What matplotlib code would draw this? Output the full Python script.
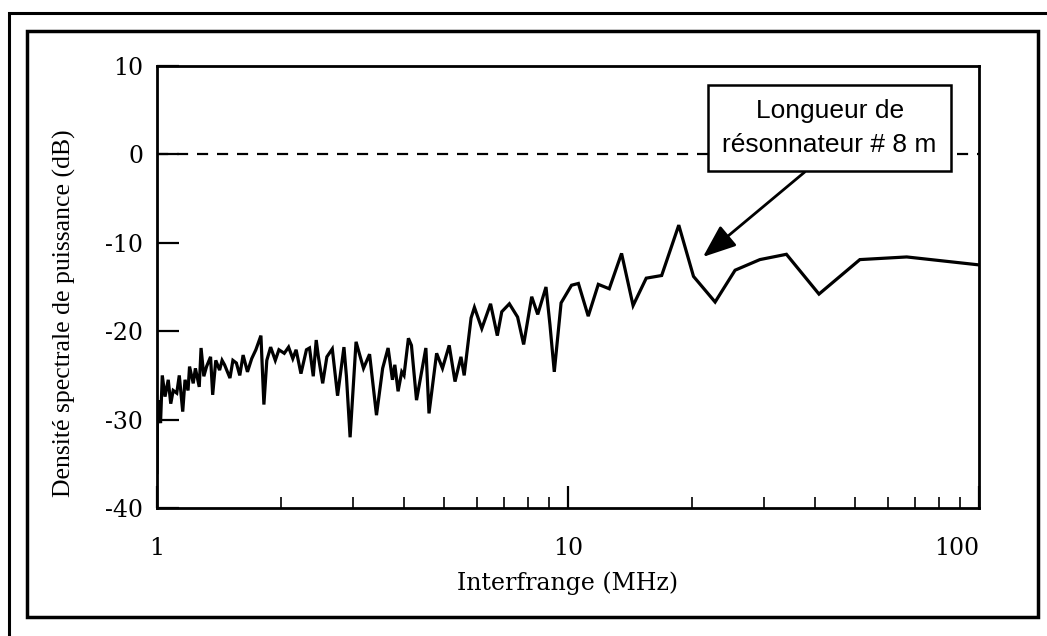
import numpy as np
import matplotlib.pyplot as plt
from matplotlib.patches import Rectangle

# spectre (interfrange en MHz, densite en dB)
freq = [1.000, 1.003, 1.007, 1.020, 1.030, 1.046, 1.065, 1.080, 1.095, 1.117,
        1.133, 1.155, 1.170, 1.190, 1.200, 1.225, 1.240, 1.267, 1.280, 1.300,
        1.320, 1.350, 1.366, 1.390, 1.420, 1.440, 1.460, 1.505, 1.530, 1.560,
        1.590, 1.620, 1.660, 1.700, 1.740, 1.790, 1.820, 1.850, 1.890, 1.940,
        1.980, 2.040, 2.090, 2.140, 2.180, 2.240, 2.310, 2.350, 2.400, 2.440,
        2.470, 2.530, 2.590, 2.670, 2.750, 2.850, 2.890, 2.950, 3.050, 3.180,
        3.290, 3.420, 3.540, 3.650, 3.740, 3.790, 3.860, 3.940, 3.990, 4.090,
        4.160, 4.280, 4.510, 4.590, 4.790, 4.950, 5.140, 5.310, 5.490, 5.590,
        5.810, 5.920, 6.170, 6.480, 6.730, 6.900, 7.200, 7.540, 7.800, 8.160,
        8.440, 8.840, 9.040, 9.260, 9.620, 10.20, 10.60, 11.20, 11.85, 12.60,
        13.50, 14.40, 15.50, 16.90, 18.60, 20.20, 22.80, 25.50, 29.30, 34.00,
        40.80, 51.30, 66.70, 100.0]
dsp = [-36.0, -29.0, -27.8, -30.4, -25.0, -27.4, -25.5, -28.2, -26.7, -27.0,
       -25.0, -29.1, -25.5, -26.7, -24.0, -25.9, -24.2, -26.3, -21.9, -25.1,
       -24.0, -22.9, -27.2, -23.3, -24.4, -23.3, -23.8, -25.3, -23.3, -23.6,
       -25.0, -22.7, -24.6, -23.1, -22.1, -20.5, -28.3, -23.3, -21.8, -23.3,
       -22.1, -22.5, -21.8, -23.1, -22.1, -24.8, -22.1, -21.9, -25.1, -21.0,
       -22.9, -25.9, -22.9, -22.0, -27.3, -21.8, -25.1, -32.0, -21.2, -24.2,
       -22.6, -29.5, -24.2, -21.9, -25.5, -23.8, -26.8, -24.6, -25.0, -20.8,
       -21.6, -27.8, -21.9, -29.3, -22.5, -24.2, -21.6, -25.7, -22.9, -25.0,
       -18.5, -17.3, -19.7, -16.9, -20.5, -17.8, -16.9, -18.4, -21.5, -16.1,
       -18.1, -15.0, -19.3, -24.6, -16.8, -14.8, -14.6, -18.3, -14.7, -15.2,
       -11.2, -17.1, -14.0, -13.7, -8.0, -13.8, -16.7, -13.1, -11.9, -11.3,
       -15.8, -11.9, -11.6, -12.5]

x_ticks = [1, 10, 100]
x_labels = ["1", "10", "100"]
y_ticks = [10, 0, -10, -20, -30, -40]

serif = ["DejaVu Serif"]

fig = plt.figure(figsize=(10.47, 6.36), dpi=100)

# cadres autour de la figure
fig.patches.append(Rectangle((9 / 1047, -0.1), 1.2, 1 - 13 / 636 + 0.1,
                             transform=fig.transFigure, fill=False,
                             lw=2.2, ec="black"))
fig.patches.append(Rectangle((27 / 1047, 1 - 617 / 636), (1038 - 27) / 1047,
                             (617 - 31) / 636, transform=fig.transFigure,
                             fill=False, lw=2.5, ec="black"))

ax = fig.add_axes([157 / 1047, 1 - 508 / 636, (979 - 157) / 1047, (508 - 66) / 636])

ax.plot(freq, dsp, color="black", lw=2.3, solid_joinstyle="miter")
ax.axhline(0, color="black", lw=1.6, ls=(0, (5, 4)))

ax.set_xscale("log")
ax.set_xlim(1, 100)
ax.set_ylim(-40, 10)

ax.set_xticks(x_ticks)
ax.set_xticklabels(x_labels, family=serif, fontsize=17)
ax.get_xticklabels()[-1].set_horizontalalignment("right")
ax.set_yticks(y_ticks)
ax.set_yticklabels([str(v) for v in y_ticks], family=serif, fontsize=17)
ax.tick_params(axis="both", which="major", direction="in", length=16, width=1.6,
               top=False, right=False)
ax.tick_params(axis="x", which="major", pad=21)
ax.tick_params(axis="y", which="major", pad=10)
ax.tick_params(axis="x", which="minor", direction="in", length=8, width=1.2,
               top=False)
ax.tick_params(axis="y", which="minor", left=False, right=False)
for s in ax.spines.values():
    s.set_linewidth(2)

ax.set_xlabel("Interfrange (MHz)", family=serif, fontsize=17, labelpad=8)
ax.set_ylabel("Densité spectrale de puissance (dB)",
              family=["Liberation Serif", "DejaVu Serif"], fontsize=18.5)
ax.yaxis.set_label_coords(-0.0985, 0.441)

ax.annotate("Longueur de\nrésonnateur # 8 m", xy=(21.3, -11.6), xytext=(43.3, 3.0),
            fontsize=19, family=["Liberation Sans", "DejaVu Sans"],
            ha="center", va="center", linespacing=1.5,
            bbox=dict(boxstyle="square,pad=0.55", fc="white", ec="black", lw=1.8),
            arrowprops=dict(arrowstyle="-|>,head_length=1.07,head_width=0.42",
                            color="black", lw=2, shrinkA=0, shrinkB=0,
                            relpos=(0.47, 0)))

fig.savefig("out.png", dpi=100)
